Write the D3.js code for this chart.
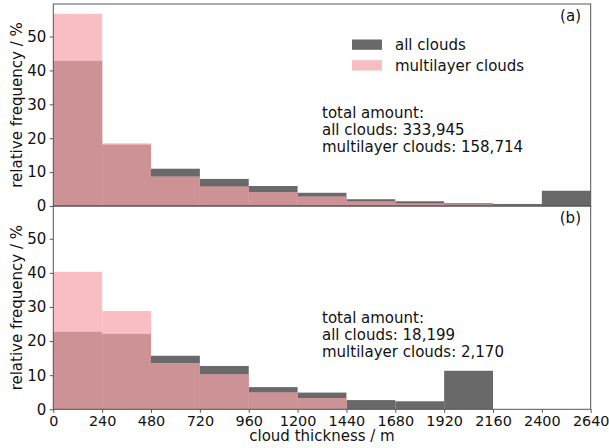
<!DOCTYPE html>
<html><head><meta charset="utf-8">
<script src="https://cdn.jsdelivr.net/npm/d3@7"></script>
<style>body{margin:0;background:#fff}svg{display:block;font-family:"DejaVu Sans",sans-serif}</style>
</head><body>
<svg id="c" width="609" height="448"></svg>
<script>
const binEdges = [0,240,480,720,960,1200,1440,1680,1920,2160,2400,2640];
const xTickLabels = ["0","240","480","720","960","1200","1440","1680","1920","2160","2400","2640"];
const yTicks = [0,10,20,30,40,50];
const seriesNames = ["all clouds","multilayer clouds"];
const allA   = [42.8,18.1,11.0,8.0,5.9,3.9,2.0,1.4,0.8,0.6,4.5];
const multiA = [56.7,18.5,8.65,5.7,4.0,2.75,1.3,0.7,0.4,0.3,0.0];
const allB   = [22.7,22.1,15.7,12.7,6.5,4.9,2.7,2.35,11.3,0,0];
const multiB = [40.3,28.8,13.5,10.2,4.9,3.3,0,0,0,0,0];
const panelLabels = ["(a)","(b)"];
const totalsA = ["total amount:","all clouds: 333,945","multilayer clouds: 158,714"];
const totalsB = ["total amount:","all clouds: 18,199","multilayer clouds: 2,170"];

const GRAY="#696969", PINK="#f9bec4", OVER="#cd9295", SPINE="#555";
const FS=15, XFS=14.4;
const svg = d3.select("#c");
const L=53.3, R=590.7;
const x = d3.scaleLinear().domain([0,2640]).range([L,R]);
const panels = [
  {top:4, bot:206, all:allA, multi:multiA, label:panelLabels[0], totals:totalsA, tBase:117.5, legend:true, xlab:false},
  {top:206, bot:409.3, all:allB, multi:multiB, label:panelLabels[1], totals:totalsB, tBase:323, legend:false, xlab:true}
];
panels.forEach(p=>{
  const y = d3.scaleLinear().domain([0,59.6]).range([p.bot,p.top]);
  const g = svg.append("g");
  const bins = d3.range(binEdges.length-1);
  g.selectAll(".ga").data(bins).join("rect")
    .attr("x",i=>x(binEdges[i])).attr("width",i=>x(binEdges[i+1])-x(binEdges[i]))
    .attr("y",i=>y(p.all[i])).attr("height",i=>y(0)-y(p.all[i])).attr("fill",GRAY);
  g.selectAll(".gm").data(bins).join("rect")
    .attr("x",i=>x(binEdges[i])).attr("width",i=>x(binEdges[i+1])-x(binEdges[i]))
    .attr("y",i=>y(p.multi[i])).attr("height",i=>y(0)-y(p.multi[i])).attr("fill",PINK);
  g.selectAll(".go").data(bins).join("rect")
    .attr("x",i=>x(binEdges[i])).attr("width",i=>x(binEdges[i+1])-x(binEdges[i]))
    .attr("y",i=>y(Math.min(p.all[i],p.multi[i]))).attr("height",i=>y(0)-y(Math.min(p.all[i],p.multi[i]))).attr("fill",OVER);
  const ya = g.append("g").attr("transform",`translate(${L},0)`)
    .call(d3.axisLeft(y).tickValues(yTicks).tickSize(3.5).tickPadding(3.5).tickFormat(d3.format("d")));
  ya.select(".domain").remove();
  ya.selectAll("line").attr("stroke",SPINE);
  ya.selectAll("text").attr("font-size",FS).attr("fill","#111").attr("font-family","DejaVu Sans");
  const xa = g.append("g").attr("transform",`translate(0,${p.bot})`)
    .call(d3.axisBottom(x).tickValues(binEdges).tickSize(3.5).tickPadding(2.5).tickFormat((d,i)=>p.xlab?xTickLabels[i]:""));
  xa.select(".domain").remove();
  xa.selectAll("line").attr("stroke",SPINE);
  xa.selectAll("text").attr("font-size",XFS).attr("fill","#111").attr("font-family","DejaVu Sans");
  if(!p.xlab) xa.selectAll("line").remove();
  g.append("rect").attr("x",L).attr("y",p.top).attr("width",R-L).attr("height",p.bot-p.top)
    .attr("fill","none").attr("stroke",SPINE).attr("stroke-width",1);
  g.append("text").attr("x",581).attr("y",p.top+17).attr("text-anchor","end")
    .attr("font-size",FS).attr("fill","#111").text(p.label);
  g.append("g").selectAll("text").data(p.totals).join("text")
    .attr("x",322).attr("y",(d,i)=>p.tBase+i*17).attr("font-size",FS).attr("fill","#111").text(d=>d);
  g.append("text").attr("transform",`translate(22,${(p.top+p.bot)/2}) rotate(-90)`)
    .attr("text-anchor","middle").attr("font-size",FS).attr("fill","#111").text("relative frequency / %");
  if(p.legend){
    const lg = g.append("g");
    [GRAY,PINK].forEach((c,i)=>{
      lg.append("rect").attr("x",352).attr("y",39.5+i*20.7).attr("width",30).attr("height",10.3).attr("fill",c);
      lg.append("text").attr("x",395).attr("y",49.8+i*20.7).attr("font-size",FS).attr("fill","#111").text(seriesNames[i]);
    });
  }
  if(p.xlab){
    g.append("text").attr("x",(L+R)/2).attr("y",441).attr("text-anchor","middle")
      .attr("font-size",FS).attr("fill","#111").text("cloud thickness / m");
  }
});
</script>
</body></html>
